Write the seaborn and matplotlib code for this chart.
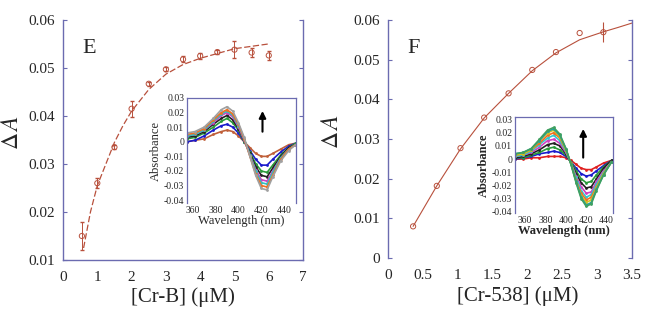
import numpy as np
import pandas as pd
import matplotlib
matplotlib.use("Agg")
import matplotlib.pyplot as plt
import seaborn as sns

# ---- panel E data ----
conc_e = [0.55, 1.0, 1.5, 2.0, 2.5, 3.0, 3.5, 4.0, 4.5, 5.0, 5.5, 6.0]
dA_e = [0.015, 0.026, 0.0335, 0.0415, 0.0467, 0.0497, 0.0518, 0.0525, 0.0533, 0.0538, 0.0532, 0.0526]
err_e = [0.003, 0.001, 0.0004, 0.0017, 0.0004, 0.0004, 0.0006, 0.0006, 0.0004, 0.0018, 0.001, 0.001]
fit_x_e = [0.6, 0.8, 1.0, 1.25, 1.5, 1.75, 2.0, 2.5, 3.0, 3.5, 4.0, 4.5, 5.0, 5.5, 6.0]
fit_y_e = [0.0125, 0.020, 0.0255, 0.030, 0.0345, 0.038, 0.041, 0.0455, 0.0487, 0.0507, 0.052, 0.053, 0.054, 0.0545, 0.055]

# ---- panel F data ----
conc_f = [0.36, 0.70, 1.04, 1.38, 1.73, 2.07, 2.41, 2.75, 3.09]
dA_f = [0.0080, 0.0182, 0.0277, 0.0354, 0.0415, 0.0474, 0.0519, 0.0567, 0.0569]
err_f = [0.0, 0.0, 0.0, 0.0, 0.0, 0.0, 0.0, 0.0, 0.0025]
fit_x_f = [0.36, 0.70, 1.04, 1.38, 1.73, 2.07, 2.41, 2.75, 3.09, 3.3, 3.5]
fit_y_f = [0.0080, 0.0182, 0.0275, 0.0353, 0.0415, 0.0472, 0.0517, 0.0550, 0.0570, 0.0581, 0.0592]

# ---- inset spectra E ----
wl_e = [355, 362, 370, 378, 385, 390, 395, 400, 405, 410, 415, 420, 425, 430, 437, 444, 450]
spectra_e = [
    [0.000, 0.001, 0.002, 0.005, 0.007, 0.008, 0.007, 0.004, 0.000, -0.004, -0.008, -0.010, -0.010, -0.008, -0.005, -0.002, -0.001],
    [0.000, 0.001, 0.004, 0.008, 0.011, 0.012, 0.010, 0.006, 0.000, -0.006, -0.012, -0.016, -0.016, -0.012, -0.007, -0.003, -0.001],
    [0.002, 0.003, 0.006, 0.010, 0.014, 0.016, 0.013, 0.008, 0.000, -0.007, -0.015, -0.020, -0.021, -0.016, -0.009, -0.004, -0.001],
    [0.003, 0.004, 0.007, 0.012, 0.016, 0.018, 0.015, 0.009, 0.001, -0.008, -0.017, -0.023, -0.024, -0.018, -0.010, -0.004, -0.002],
    [0.004, 0.005, 0.008, 0.013, 0.018, 0.020, 0.017, 0.010, 0.001, -0.009, -0.019, -0.026, -0.027, -0.020, -0.011, -0.005, -0.002],
    [0.004, 0.005, 0.008, 0.014, 0.019, 0.021, 0.018, 0.011, 0.002, -0.009, -0.020, -0.028, -0.029, -0.021, -0.011, -0.005, -0.002],
    [0.005, 0.006, 0.009, 0.015, 0.020, 0.022, 0.019, 0.012, 0.002, -0.010, -0.022, -0.030, -0.031, -0.023, -0.012, -0.005, -0.002],
    [0.006, 0.007, 0.010, 0.016, 0.022, 0.024, 0.021, 0.013, 0.003, -0.010, -0.023, -0.032, -0.033, -0.024, -0.013, -0.006, -0.002],
]
colors_e = ["#c0603a", "#1a1acc", "#2a9a3a", "#222222", "#d040c0", "#30c0c0", "#f07020", "#a0a0a0"]

# ---- inset spectra F ----
wl_f = [350, 358, 366, 374, 382, 388, 394, 400, 405, 410, 415, 420, 425, 430, 437, 445]
spectra_f = [
    [0.000, 0.000, 0.001, 0.001, 0.002, 0.002, 0.002, 0.001, -0.001, -0.004, -0.007, -0.008, -0.008, -0.006, -0.003, -0.001],
    [0.000, 0.001, 0.002, 0.004, 0.005, 0.006, 0.005, 0.002, -0.002, -0.007, -0.011, -0.013, -0.012, -0.009, -0.005, -0.001],
    [0.001, 0.001, 0.003, 0.005, 0.008, 0.009, 0.007, 0.003, -0.002, -0.009, -0.015, -0.018, -0.017, -0.012, -0.006, -0.001],
    [0.001, 0.002, 0.004, 0.007, 0.011, 0.012, 0.010, 0.004, -0.003, -0.011, -0.018, -0.022, -0.021, -0.015, -0.007, -0.001],
    [0.002, 0.003, 0.005, 0.009, 0.014, 0.015, 0.012, 0.005, -0.003, -0.013, -0.021, -0.026, -0.025, -0.017, -0.009, -0.002],
    [0.002, 0.003, 0.006, 0.011, 0.016, 0.018, 0.014, 0.006, -0.003, -0.014, -0.024, -0.029, -0.027, -0.019, -0.010, -0.002],
    [0.003, 0.004, 0.007, 0.012, 0.018, 0.020, 0.016, 0.007, -0.003, -0.016, -0.026, -0.031, -0.029, -0.021, -0.011, -0.002],
    [0.003, 0.004, 0.007, 0.014, 0.020, 0.022, 0.017, 0.007, -0.004, -0.017, -0.028, -0.033, -0.031, -0.022, -0.011, -0.002],
    [0.004, 0.005, 0.008, 0.014, 0.021, 0.023, 0.018, 0.008, -0.004, -0.017, -0.029, -0.035, -0.033, -0.023, -0.012, -0.002],
    [0.004, 0.005, 0.008, 0.015, 0.022, 0.024, 0.019, 0.008, -0.004, -0.018, -0.030, -0.036, -0.034, -0.024, -0.012, -0.002],
]
colors_f = ["#e02020", "#1a1acc", "#2a9a3a", "#222222", "#d040c0", "#30c8d0", "#f07020", "#d0c020", "#20a0a0", "#40a060"]

inset_yticks = [0.03, 0.02, 0.01, 0.0, -0.01, -0.02, -0.03, -0.04]
inset_ylabels = ["0.03", "0.02", "0.01", "0", "-0.01", "-0.02", "-0.03", "-0.04"]
inset_xticks = [360, 380, 400, 420, 440]

sns.set_style("white")
plt.rcParams["font.family"] = ["Liberation Serif", "DejaVu Serif"]
plt.rcParams["mathtext.fontset"] = "stix"

spine_c = "#6b6bb0"
data_c = "#b8503c"

fig = plt.figure(figsize=(6.47, 3.11), dpi=100)
axE = fig.add_axes([0.0974, 0.164, 0.371, 0.772])
axF = fig.add_axes([0.5997, 0.170, 0.377, 0.766])
inE = fig.add_axes([0.289, 0.347, 0.168, 0.338])
inF = fig.add_axes([0.796, 0.315, 0.151, 0.309])


def style_main(ax, spines):
    for s in ["left", "right", "top", "bottom"]:
        ax.spines[s].set_visible(s in spines)
        ax.spines[s].set_color(spine_c)
        ax.spines[s].set_linewidth(1.0)
    ax.tick_params(axis="y", which="major", direction="in", left=True, right=True,
                   length=3, color=spine_c, labelsize=11, pad=6)
    ax.tick_params(axis="x", which="major", length=0, labelsize=11, pad=8)
    ax.tick_params(axis="x", which="minor", direction="in", top=True, bottom=True,
                   length=4, color=spine_c)


# ---- panel E ----
sns.lineplot(x=fit_x_e, y=fit_y_e, ax=axE, color=data_c, lw=0.9, linestyle=(0, (5, 2)))
axE.errorbar(conc_e, dA_e, yerr=err_e, fmt="none", ecolor=data_c, elinewidth=0.7, capsize=1.5)
sns.scatterplot(x=conc_e, y=dA_e, ax=axE, marker="o", s=14, facecolor="none",
                edgecolor=data_c, linewidth=0.7)
axE.set_xlim(0, 7)
axE.set_ylim(0.01, 0.06)
axE.set_xticks(range(8))
axE.set_xticklabels([str(i) for i in range(8)])
axE.set_xticks([3, 4, 6], minor=True)
axE.set_yticks([0.01, 0.02, 0.03, 0.04, 0.05, 0.06])
axE.set_yticklabels(["0.01", "0.02", "0.03", "0.04", "0.05", "0.06"])
style_main(axE, ["left", "right", "bottom"])
axE.set_xlabel("[Cr-B] (μM)", fontsize=15)
axE.xaxis.set_label_coords(0.5, -0.115)
axE.set_ylabel(r"$\Delta\,A$", fontsize=17)
axE.yaxis.set_label_coords(-0.165, 0.53)
axE.text(0.08, 0.92, "E", transform=axE.transAxes, fontsize=16, va="top")

# ---- panel F ----
sns.lineplot(x=fit_x_f, y=fit_y_f, ax=axF, color=data_c, lw=0.8)
axF.errorbar(conc_f, dA_f, yerr=err_f, fmt="none", ecolor=data_c, elinewidth=0.8, capsize=0)
sns.scatterplot(x=conc_f, y=dA_f, ax=axF, marker="o", s=14, facecolor="none",
                edgecolor=data_c, linewidth=0.7)
axF.set_xlim(0, 3.5)
axF.set_ylim(0, 0.06)
axF.set_xticks([0, 0.5, 1, 1.5, 2, 2.5, 3, 3.5])
axF.set_xticklabels(["0", "0.5", "1", "1.5", "2", "2.5", "3", "3.5"])
axF.set_xticks([0.5, 1, 1.5], minor=True)
axF.set_yticks([0, 0.01, 0.02, 0.03, 0.04, 0.05, 0.06])
axF.set_yticklabels(["0", "0.01", "0.02", "0.03", "0.04", "0.05", "0.06"])
style_main(axF, ["left", "right"])
axF.set_xlabel("[Cr-538] (μM)", fontsize=15)
axF.xaxis.set_label_coords(0.53, -0.12)
axF.set_ylabel(r"$\Delta\,A$", fontsize=17)
axF.yaxis.set_label_coords(-0.185, 0.53)
axF.text(0.08, 0.92, "F", transform=axF.transAxes, fontsize=16, va="top")


def draw_inset(ax, wl, spectra, colors, xlim, ylim, arrow_x, arrow_y, lab_fs, lab_w):
    rows = []
    for i, sp in enumerate(spectra):
        for w, v in zip(wl, sp):
            rows.append({"wl": w, "abs": v, "curve": i})
    df = pd.DataFrame(rows)
    sns.lineplot(data=df, x="wl", y="abs", hue="curve", palette=colors, ax=ax,
                 legend=False, lw=1.2, marker="o", markersize=2, markeredgewidth=0)
    ax.set_xlim(*xlim)
    ax.set_ylim(*ylim)
    ax.set_xticks(inset_xticks)
    ax.set_xticklabels([str(t) for t in inset_xticks])
    ax.set_yticks(inset_yticks)
    ax.set_yticklabels(inset_ylabels)
    for s in ["left", "right", "top", "bottom"]:
        ax.spines[s].set_color(spine_c)
        ax.spines[s].set_linewidth(0.9)
    ax.spines["bottom"].set_visible(False)
    ax.tick_params(labelsize=7, length=2, direction="in", color=spine_c, pad=2)
    ax.set_xlabel("Wavelength (nm)", fontsize=lab_fs, fontweight=lab_w, labelpad=0)
    ax.set_ylabel("Absorbance", fontsize=lab_fs, fontweight=lab_w, labelpad=1)
    ax.annotate("", xy=(arrow_x, arrow_y[1]), xytext=(arrow_x, arrow_y[0]),
                arrowprops=dict(arrowstyle="-|>", color="black", lw=1.5, mutation_scale=10))


draw_inset(inE, wl_e, spectra_e, colors_e, (355, 450), (-0.042, 0.03), 421, (0.005, 0.023), 9, "normal")
draw_inset(inF, wl_f, spectra_f, colors_f, (350, 446), (-0.041, 0.032), 417, (-0.001, 0.025), 9, "bold")

fig.savefig("out.png", dpi=100)
